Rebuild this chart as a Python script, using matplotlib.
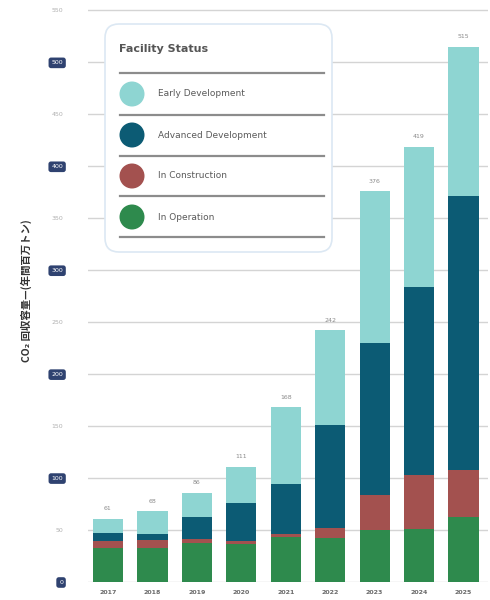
#!/usr/bin/env python3

import matplotlib
matplotlib.use("Agg")
import matplotlib.pyplot as plt
from matplotlib.patches import FancyBboxPatch, Circle

years = ["2017", "2018", "2019", "2020", "2021", "2022", "2023", "2024", "2025"]
in_operation = [33, 33, 38, 37, 43, 42, 50, 51, 63]
in_construction = [6, 7, 3, 2, 3, 10, 34, 52, 45]
advanced_dev = [8, 6, 22, 37, 48, 99, 146, 181, 263]
early_dev = [14, 22, 23, 35, 74, 91, 146, 135, 144]

status_names = ["Early Development", "Advanced Development", "In Construction", "In Operation"]
status_colors = ["#8ed5d2", "#0c5b74", "#a3514f", "#2e8a4d"]

y_ticks = list(range(0, 551, 50))


def main():
    fig = plt.figure(figsize=(4.9, 6.0), dpi=100)
    ax = fig.add_axes([88 / 490, 18 / 600, 400 / 490, 582 / 600])

    x = list(range(len(years)))
    series = [in_operation, in_construction, advanced_dev, early_dev]
    colors = status_colors[::-1]
    bottom = [0] * len(years)
    for vals, col in zip(series, colors):
        ax.bar(x, vals, width=0.68, bottom=bottom, color=col, zorder=2)
        bottom = [b + v for b, v in zip(bottom, vals)]

    for xi, tot in zip(x, bottom):
        ax.text(xi, tot + 7, str(tot), ha="center", va="bottom",
                fontsize=4.5, color="#8a8a8a")

    ax.set_xlim(-0.45, 8.55)
    ax.set_ylim(0, 560)
    ax.set_xticks(x)
    ax.set_xticklabels(years, fontsize=4.5, color="#6a6a6a", fontweight="bold")
    ax.set_yticks(y_ticks)
    ax.set_yticklabels([str(v) for v in y_ticks], fontsize=4.5)
    for v, lab in zip(y_ticks, ax.get_yticklabels()):
        if v % 100 == 0:
            lab.set_color("white")
            lab.set_bbox(dict(boxstyle="round,pad=0.45,rounding_size=0.4",
                              fc="#2f4270", ec="none"))
        else:
            lab.set_color("#b0b0b0")
    ax.tick_params(axis="both", length=0, pad=18)
    ax.tick_params(axis="x", pad=6)
    ax.grid(axis="y", color="#d4d4d4", linewidth=1.0, zorder=0)
    for s in ax.spines.values():
        s.set_visible(False)

    ax.set_ylabel("CO₂ 回収容量—(年間百万トン)", fontsize=7.5, fontweight="bold",
                  color="#333333", family=["Noto Sans CJK JP", "DejaVu Sans"],
                  labelpad=14)

    # custom legend panel, coordinates in pixels
    lx0, ly0, lw, lh = 103, 22, 231, 232
    lax = fig.add_axes([lx0 / 490, 1 - (ly0 + lh) / 600, lw / 490, lh / 600])
    lax.set_xlim(0, lw)
    lax.set_ylim(lh, 0)
    lax.axis("off")
    lax.add_patch(FancyBboxPatch((2, 2), lw - 4, lh - 4,
                                 boxstyle="round,pad=0,rounding_size=14",
                                 fc="white", ec="#dce8f3", lw=1.2))
    lax.text(16, 27, "Facility Status", fontsize=8, fontweight="bold",
             color="#555555", va="center", ha="left")
    for yl in [51, 93, 134, 174, 215]:
        lax.plot([17, 221], [yl, yl], color="#8c8c8c", lw=1.6)
    for yc, name, col in zip([72, 113, 154, 195], status_names, status_colors):
        lax.add_patch(Circle((29, yc), 12.5, fc=col, ec="none"))
        lax.text(55, yc, name, fontsize=6.5, color="#5a5a5a", va="center", ha="left")

    fig.savefig("out.png", dpi=100)


if __name__ == "__main__":
    main()
